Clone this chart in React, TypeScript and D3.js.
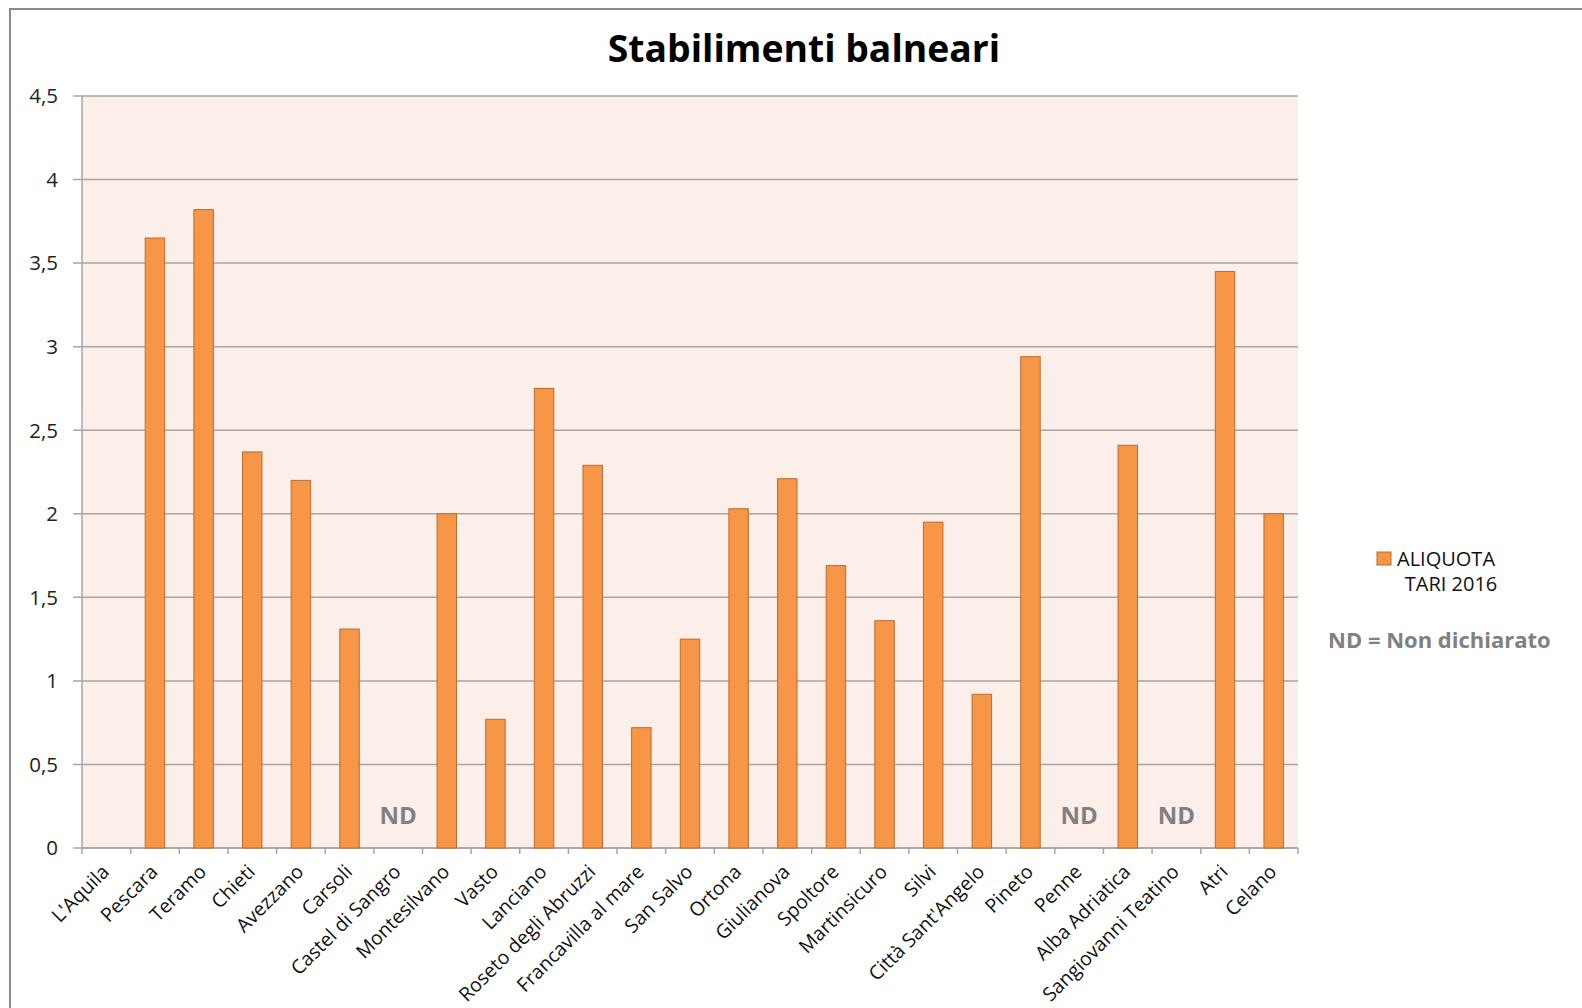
import React from "react";
import * as d3 from "d3";

const categories = [
  "L'Aquila", "Pescara", "Teramo", "Chieti", "Avezzano", "Carsoli", "Castel di Sangro",
  "Montesilvano", "Vasto", "Lanciano", "Roseto degli Abruzzi", "Francavilla al mare",
  "San Salvo", "Ortona", "Giulianova", "Spoltore", "Martinsicuro", "Silvi",
  "Città Sant'Angelo", "Pineto", "Penne", "Alba Adriatica", "Sangiovanni Teatino", "Atri", "Celano",
];
// null = no bar; "ND" categories are listed separately
const values: (number | null)[] = [
  null, 3.65, 3.82, 2.37, 2.2, 1.31, null,
  2.0, 0.77, 2.75, 2.29, 0.72,
  1.25, 2.03, 2.21, 1.69, 1.36, 1.95,
  0.92, 2.94, null, 2.41, null, 3.45, 2.0,
];
const ndCategories = ["Castel di Sangro", "Penne", "Sangiovanni Teatino"];
const yTicks = [0, 0.5, 1, 1.5, 2, 2.5, 3, 3.5, 4, 4.5];
const title = "Stabilimenti balneari";
const seriesName = ["ALIQUOTA", "TARI 2016"];
const ndNote = "ND = Non dichiarato";

const W = 1582, H = 1008;
const L = 82, R = 1298, T = 96, B = 848;
const FONT = "'Open Sans', sans-serif";

export default function App() {
  const x = d3.scaleBand<string>().domain(categories).range([L, R]).paddingInner(0.6).paddingOuter(0.3);
  const band = d3.scaleBand<string>().domain(categories).range([L, R]);
  const y = d3.scaleLinear().domain([0, 4.5]).range([B, T]);
  const fmt = (v: number) => String(v).replace(".", ",");
  const boundaries = d3.range(categories.length + 1).map((i) => L + i * band.step());

  return (
    <svg width={W} height={H} style={{ position: "absolute", left: 0, top: 0, background: "#fff" }}>
      <rect x={10} y={9} width={W} height={H} fill="#fff" stroke="#8a8a8a" strokeWidth={2} />
      <text x={804} y={62} textAnchor="middle" fontFamily={FONT} fontWeight={700} fontSize={37.3} fill="#000">
        {title}
      </text>
      <rect x={L} y={T} width={R - L} height={B - T} fill="#FCEEE9" />
      {yTicks.map((t) => (
        <g key={t}>
          <line x1={73} x2={R} y1={y(t)} y2={y(t)} stroke="#a8a4a2" strokeWidth={1.5} />
          <text x={58} y={y(t)} dy="0.36em" textAnchor="end" fontFamily={FONT} fontSize={20.5} fill="#222">
            {fmt(t)}
          </text>
        </g>
      ))}
      <line x1={L} x2={L} y1={T} y2={B} stroke="#a8a4a2" strokeWidth={1.5} />
      <line x1={L} x2={R} y1={B} y2={B} stroke="#a8a4a2" strokeWidth={1.5} />
      {boundaries.map((bx, i) => (
        <line key={i} x1={bx} x2={bx} y1={B} y2={B + 6} stroke="#a8a4a2" strokeWidth={1.5} />
      ))}
      {categories.map((c, i) => {
        const v = values[i];
        if (v == null) return null;
        return (
          <rect key={c} x={x(c)!} y={y(v)} width={x.bandwidth()} height={B - y(v)}
            fill="#F79646" stroke="#B66D31" strokeWidth={1} />
        );
      })}
      {ndCategories.map((c) => (
        <text key={c} x={band(c)! + band.bandwidth() / 2} y={824} textAnchor="middle"
          fontFamily={FONT} fontWeight={700} fontSize={24} fill="#808080">ND</text>
      ))}
      {categories.map((c) => {
        const cx = band(c)! + band.bandwidth() / 2;
        return (
          <text key={c} transform={`translate(${cx + 4},${873}) rotate(-45)`} textAnchor="end"
            fontFamily={FONT} fontSize={19.5} fill="#111">{c}</text>
        );
      })}
      <rect x={1377} y={552} width={14} height={13} fill="#F79646" stroke="#B66D31" strokeWidth={1} />
      <text x={1397} y={566} fontFamily={FONT} fontSize={20} fill="#111">{seriesName[0]}</text>
      <text x={1451} y={591} textAnchor="middle" fontFamily={FONT} fontSize={20} fill="#111">{seriesName[1]}</text>
      <text x={1328} y={648} fontFamily={FONT} fontWeight={700} fontSize={22} fill="#808080">{ndNote}</text>
    </svg>
  );
}
